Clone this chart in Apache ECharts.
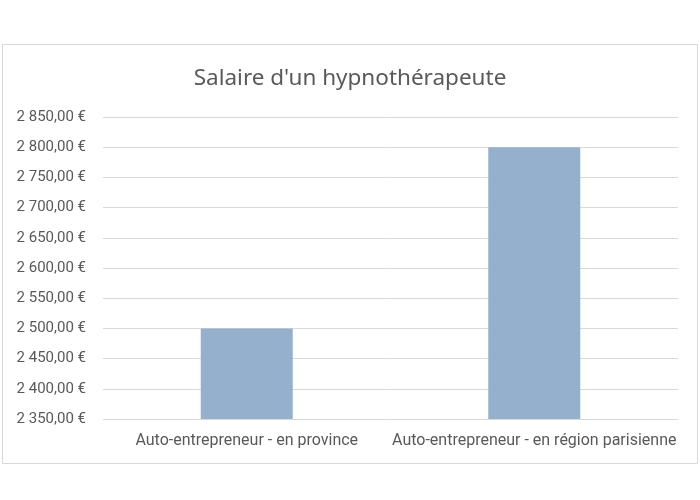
<html>
<head>
    <meta charset="utf-8">
    <script src="https://cdn.jsdelivr.net/npm/echarts@6/dist/echarts.min.js"></script>
    <style>
        html, body { margin: 0; padding: 0; background: #fff; }
        #main { width: 700px; height: 500px; }
    </style>
</head>
<body>
    <div id="main"></div>
    <script>
        var categories = ['Auto-entrepreneur - en province', 'Auto-entrepreneur - en région parisienne'];
        var salaires = [2500, 2800];
        var yMin = 2350, yMax = 2850, yStep = 50;

        function euro(v) {
            var s = v.toFixed(2).split('.');
            var ent = s[0].replace(/\B(?=(\d{3})+(?!\d))/g, ' ');
            return ent + ',' + s[1] + ' €';
        }

        var chart = echarts.init(document.getElementById('main'));
        chart.setOption({
            animation: false,
            textStyle: { fontFamily: 'Roboto, sans-serif' },
            title: {
                text: "Salaire d'un hypnothérapeute",
                left: 'center',
                top: 62,
                textStyle: { fontSize: 22.5, fontWeight: 'normal', color: '#595959', fontFamily: 'Noto Sans, sans-serif' }
            },
            graphic: [{
                type: 'rect',
                shape: { x: 2.5, y: 44.5, width: 695, height: 419 },
                style: { fill: null, stroke: '#d9d9d9', lineWidth: 1 },
                z: -1
            }],
            grid: { left: 103, right: 22, top: 117, bottom: 81 },
            xAxis: {
                type: 'category',
                data: categories,
                axisLine: { show: false },
                axisTick: { show: false },
                axisLabel: { color: '#595959', fontSize: 16, margin: 14, interval: 0 }
            },
            yAxis: {
                type: 'value',
                min: yMin,
                max: yMax,
                interval: yStep,
                axisLine: { show: false },
                axisTick: { show: false },
                splitLine: { lineStyle: { color: '#d9d9d9', width: 1 } },
                axisLabel: { color: '#595959', fontSize: 15, margin: 17, formatter: euro }
            },
            series: [{
                type: 'bar',
                data: salaires,
                barWidth: '32%',
                itemStyle: { color: '#95b0cc' }
            }]
        });
    </script>
</body>
</html>
